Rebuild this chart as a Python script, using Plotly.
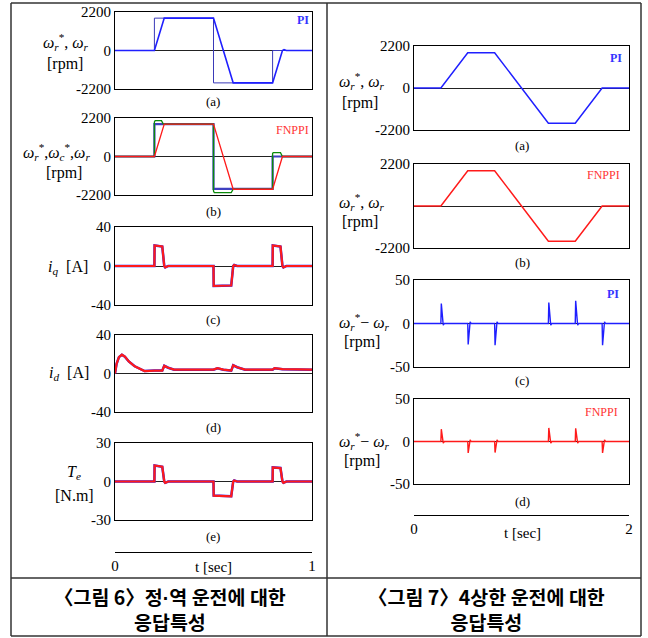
import plotly.graph_objects as go

W, H = 648, 638

# ---------------- Fig. 6 (left), t = 0..1 s ----------------
L_ref_t = [0, 0.2, 0.2, 0.5, 0.5, 0.8, 0.8, 1.0]
L_ref_w = [0, 0, 1850, 1850, -1850, -1850, 0, 0]

La_t = [0, 0.2, 0.25, 0.5, 0.6, 0.8, 0.85, 0.858, 0.87, 1.0]
La_w = [0, 0, 1850, 1850, -1850, -1850, 0, 50, 0, 0]

Lb_c_t = [0, 0.2, 0.2, 0.204, 0.236, 0.245, 0.5, 0.5, 0.504, 0.59, 0.6, 0.8, 0.8, 0.804, 0.84, 0.85, 1.0]
Lb_c_w = [0, 0, 1980, 2050, 2050, 1850, 1850, -1980, -2060, -2060, -1870, -1870, 180, 220, 220, 0, 0]
Lb_t = [0, 0.2, 0.25, 0.5, 0.6, 0.8, 0.85, 1.0]
Lb_w = [0, 0, 1850, 1850, -1870, -1870, 0, 0]

Lc_t = [0, 0.2, 0.201, 0.24, 0.25, 0.255, 0.27, 0.5, 0.501, 0.59, 0.6, 0.605, 0.62, 0.8, 0.801, 0.84, 0.85, 0.855, 0.87, 1.0]
Lc_iq = [0, 0, 21, 20, 0, -1.5, 0, 0, -20.5, -20, 0, 1, 0, 0, 21, 20, 0, -1.5, 0, 0]

Ld_t = [0, 0.008, 0.02, 0.035, 0.05, 0.07, 0.1, 0.13, 0.15, 0.2, 0.24, 0.25, 0.27, 0.3, 0.5, 0.52, 0.55, 0.59, 0.6, 0.62, 0.66, 0.8, 0.81, 0.85, 1.0]
Ld_id = [0, 10, 17, 19.5, 17.5, 12.5, 7.5, 4, 2.5, 3, 3, 8, 6, 4, 4, 5.5, 4, 3, 8.5, 6.5, 4, 4, 5.5, 4.5, 4]

Le_t = Lc_t
Le_te = [0, 0, 12.5, 11.5, 0, -1, 0, 0, -11, -11.5, 0, 0.8, 0, 0, 11, 10.5, 0, -1, 0, 0]

# ---------------- Fig. 7 (right), t = 0..2 s ----------------
R_t = [0, 0.25, 0.5, 0.75, 1.25, 1.5, 1.75, 2.0]
R_w = [0, 0, 1850, 1850, -1850, -1850, 0, 0]

R_spike_t = [0.25, 0.5, 0.75, 1.25, 1.5, 1.75]
Rc_peak = [23, -24, -25, 24, 26, -25]
Rd_peak = [14.5, -13.5, -13, 16, 15.5, -13.5]


def spikes(times, peaks):
    xs, ys = [0.0], [0.0]
    for t0, p in zip(times, peaks):
        s = 1 if p > 0 else -1
        xs += [t0, t0 + 0.004, t0 + 0.016, t0 + 0.022, t0 + 0.032]
        ys += [0, p, 0, -s * 2, 0]
    xs.append(2.0)
    ys.append(0.0)
    return xs, ys


BLUE = "#1f1fff"
RED = "#ff1a1a"
GREEN = "#0a8a0a"
SERIF = "Liberation Serif"

LX = [115, 312]
RX = [414, 629]
panels = [
    ("L1", LX, (12, 89), [0, 1], [-2200, 2200], [-2200, 0, 2200], ["-2200", "0", "2200"]),
    ("L2", LX, (118, 195), [0, 1], [-2200, 2200], [-2200, 0, 2200], ["-2200", "0", "2200"]),
    ("L3", LX, (227, 305), [0, 1], [-40, 40], [-40, 0, 40], ["-40", "0", "40"]),
    ("L4", LX, (335, 412), [0, 1], [-40, 40], [-40, 0, 40], ["-40", "0", "40"]),
    ("L5", LX, (443, 520), [0, 1], [-30, 30], [-30, 0, 30], ["-30", "0", "30"]),
    ("R1", RX, (46, 130), [0, 2], [-2200, 2200], [-2200, 0, 2200], ["-2200", "0", "2200"]),
    ("R2", RX, (164, 248), [0, 2], [-2200, 2200], [-2200, 2200], ["-2200", "2200"]),
    ("R3", RX, (280, 367), [0, 2], [-50, 50], [-50, 0, 50], ["-50", "0", "50"]),
    ("R4", RX, (399, 484), [0, 2], [-50, 50], [-50, 0, 50], ["-50", "0", "50"]),
]

fig = go.Figure()
layout = {}
for i, (name, xd, yd, xr, yr, tv, tt) in enumerate(panels, start=1):
    sx = "" if i == 1 else str(i)
    layout["xaxis" + sx] = dict(
        domain=[xd[0] / W, xd[1] / W], range=xr, anchor="y" + sx,
        showline=True, mirror=True, linecolor="black", linewidth=1.2,
        showgrid=False, zeroline=False, showticklabels=False, ticks="", fixedrange=True,
        automargin=False)
    layout["yaxis" + sx] = dict(
        domain=[1 - yd[1] / H, 1 - yd[0] / H], range=yr, anchor="x" + sx,
        showline=True, mirror=True, linecolor="black", linewidth=1.2,
        showgrid=False, zeroline=True, zerolinecolor="#222222", zerolinewidth=1,
        tickvals=tv, ticktext=tt, ticks="", automargin=False,
        tickfont=dict(family=SERIF, size=15, color="black"), fixedrange=True)


def add(i, x, y, color, width):
    sx = "" if i == 1 else str(i)
    fig.add_trace(go.Scatter(x=x, y=y, mode="lines", line=dict(color=color, width=width),
                             xaxis="x" + sx, yaxis="y" + sx, showlegend=False,
                             hoverinfo="skip"))


add(1, L_ref_t, L_ref_w, "#3a3ab8", 1)
add(1, La_t, La_w, BLUE, 1.6)
add(2, L_ref_t, L_ref_w, "#4040c0", 2.2)
add(2, Lb_c_t, Lb_c_w, GREEN, 1.3)
add(2, Lb_t, Lb_w, RED, 1.3)
add(3, Lc_t, Lc_iq, BLUE, 2.5)
add(3, Lc_t, Lc_iq, RED, 2.2)
add(4, Ld_t, Ld_id, BLUE, 2.5)
add(4, Ld_t, Ld_id, RED, 2.2)
add(5, Le_t, Le_te, BLUE, 2.5)
add(5, Le_t, Le_te, RED, 2.2)
add(6, R_t, R_w, BLUE, 1.5)
add(7, R_t, R_w, RED, 1.5)
xs, ys = spikes(R_spike_t, Rc_peak)
add(8, xs, ys, BLUE, 1.4)
xs, ys = spikes(R_spike_t, Rd_peak)
add(9, xs, ys, RED, 1.4)

for j, (xd, ypx, xr, tv) in enumerate([(LX, 552, [0, 1], [0, 1]), (RX, 515, [0, 2], [0, 2])], start=10):
    layout["xaxis" + str(j)] = dict(
        domain=[xd[0] / W, xd[1] / W], range=xr, anchor="y" + str(j),
        showline=True, linecolor="black", linewidth=1.2, showgrid=False, zeroline=False,
        ticks="inside", ticklen=5, tickcolor="black", tickvals=tv, automargin=False,
        tickfont=dict(family=SERIF, size=15, color="black"), fixedrange=True)
    layout["yaxis" + str(j)] = dict(
        domain=[1 - ypx / H, 1 - (ypx - 3) / H], anchor="x" + str(j), visible=False,
        range=[0, 1], fixedrange=True)
    fig.add_trace(go.Scatter(x=[], y=[], xaxis="x" + str(j), yaxis="y" + str(j),
                             showlegend=False))

ann = []


def text(x, y, s, size=15, color="black", family=SERIF, xanchor="center", bold=False):
    ann.append(dict(x=x / W, y=1 - y / H, xref="paper", yref="paper", text=s, showarrow=False,
                    xanchor=xanchor, yanchor="middle",
                    font=dict(family=family, size=size, color=color,
                              weight="bold" if bold else "normal")))


WR = "<i>ω</i><sub><i>r</i></sub>"
WRS = "<i>ω</i><sub><i>r</i></sub><sup>*</sup>"
WCS = "<i>ω</i><sub><i>c</i></sub><sup>*</sup>"

text(66, 42, WRS + ", " + WR, 16)
text(65, 64, "[rpm]", 16)
text(56, 152, WRS + "," + WCS + "," + WR, 16)
text(64, 173, "[rpm]", 16)
text(68, 267, "<i>i</i><sub><i>q</i></sub>  [A]", 16)
text(69, 374, "<i>i</i><sub><i>d</i></sub>  [A]", 16)
text(74, 472, "<i>T</i><sub><i>e</i></sub>", 16)
text(74, 495, "[N.m]", 16)
text(362, 81, WRS + ", " + WR, 16)
text(360, 103, "[rpm]", 16)
text(362, 202, WRS + ", " + WR, 16)
text(360, 222, "[rpm]", 16)
text(365, 322, WRS + "− " + WR, 16)
text(362, 342, "[rpm]", 16)
text(365, 441, WRS + "− " + WR, 16)
text(362, 461, "[rpm]", 16)

for x, y, s in [(213, 101, "(a)"), (213, 211, "(b)"), (213, 319, "(c)"), (213, 427, "(d)"),
                (213, 536, "(e)"), (522, 146, "(a)"), (522, 262, "(b)"), (522, 381, "(c)"),
                (522, 501, "(d)")]:
    text(x, y, s, 13)

text(303, 20, "PI", 12, "#3333ff", bold=True)
text(292, 130, "FNPPI", 12, "#ff3333")
text(616, 58, "PI", 12, "#3333ff", bold=True)
text(603, 175, "FNPPI", 12, "#ff3333")
text(613, 294, "PI", 12, "#3333ff", bold=True)
text(601, 412, "FNPPI", 12, "#ff3333")

text(213, 567, "t [sec]", 15)
text(522, 533, "t [sec]", 15)

KR = "Noto Sans CJK KR"
DOT = '<span style="font-family:Liberation Sans">·</span>'
FOUR = '<span style="font-family:Noto Sans CJK KR">4</span>'
text(170, 609, "〈그림 6〉정" + DOT + "역 운전에 대한<br>응답특성", 19.5, family=KR, bold=True)
text(486, 609, "〈그림 7〉" + FOUR + "상한 운전에 대한<br>응답특성", 19.5, family=KR, bold=True)

shapes = []
for x0, y0, x1, y1 in [(11, 3, 641, 3), (11, 3, 11, 636), (641, 3, 641, 636), (11, 636, 641, 636),
                       (327, 3, 327, 636), (11, 578, 641, 578)]:
    shapes.append(dict(type="line", xref="paper", yref="paper", x0=x0 / W, x1=x1 / W,
                       y0=1 - y0 / H, y1=1 - y1 / H, line=dict(color="#333333", width=1.5)))

fig.update_layout(**layout)
fig.update_layout(width=W, height=H, margin=dict(l=0, r=0, t=0, b=0, pad=0),
                  paper_bgcolor="white", plot_bgcolor="white",
                  annotations=ann, shapes=shapes, showlegend=False)
fig.write_html("out.html", config={"displayModeBar": False},
               post_script="document.body.style.margin='0';document.body.style.overflow='hidden';")
